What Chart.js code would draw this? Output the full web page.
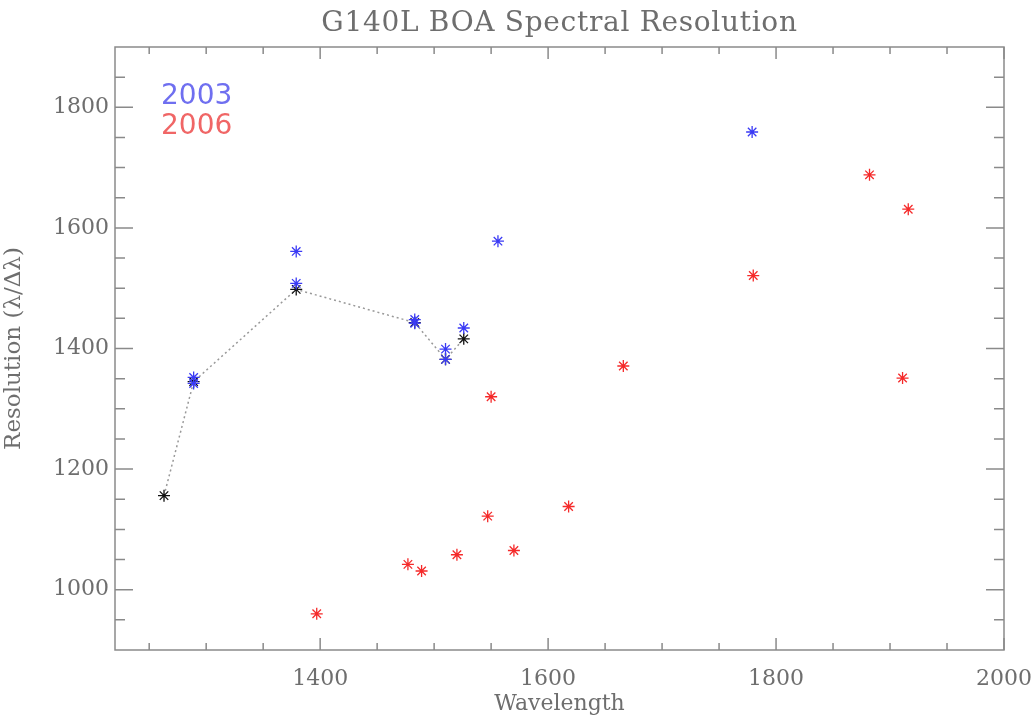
<!DOCTYPE html>
<html>
<head>
<meta charset="utf-8">
<script src="https://cdn.jsdelivr.net/npm/chart.js@4"></script>
<style>
  html, body { margin: 0; padding: 0; background: #fff; }
  #wrap { width: 1034px; height: 717px; position: relative; }
</style>
</head>
<body>
<div id="wrap"><canvas id="chart"></canvas></div>
<script>
/* DATA */
const titleText = "G140L BOA Spectral Resolution";
const xTitle = "Wavelength";
const yTitle = "Resolution (\u03bb/\u0394\u03bb)";
const seriesNames = ["2003", "2006"];

const xTicks = [1400, 1600, 1800, 2000];
const yTicks = [1000, 1200, 1400, 1600, 1800];

// 2003 points (blue)
const wave2003 = [1289, 1289, 1379, 1379, 1483, 1483, 1510, 1510, 1526, 1556, 1779];
const res2003  = [1352, 1342, 1561, 1508, 1448, 1442, 1399, 1382, 1434, 1578, 1759];

// 2006 points (red)
const wave2006 = [1397, 1477, 1489, 1520, 1547, 1550, 1570, 1618, 1666, 1780, 1882, 1911, 1916];
const res2006  = [960, 1042, 1031, 1058, 1122, 1320, 1065, 1138, 1371, 1521, 1688, 1351, 1631];

// reference curve (black, dotted)
const waveRef = [1263, 1289, 1379, 1483, 1510, 1526];
const resRef  = [1156, 1345, 1498, 1443, 1382, 1416];

const pts = (xs, ys) => xs.map((x, i) => ({ x: x, y: ys[i] }));

const axisColor = "#8a8a8a";
const textColor = "#6e6e6e";
const serif = "'DejaVu Serif', serif";

/* Axis box, minor ticks, title and year labels */
const frame = {
  id: "frame",
  afterDraw(chart) {
    const { ctx, chartArea: a, scales } = chart;
    const xs = scales.x, ys = scales.y;
    ctx.save();
    ctx.strokeStyle = axisColor;
    ctx.lineWidth = 1.5;
    ctx.strokeRect(a.left, a.top, a.right - a.left, a.bottom - a.top);

    ctx.beginPath();
    for (let v = 1250; v <= 2000; v += 50) {
      const px = xs.getPixelForValue(v);
      const len = v % 200 === 0 ? 12 : 7;
      ctx.moveTo(px, a.bottom); ctx.lineTo(px, a.bottom - len);
      ctx.moveTo(px, a.top); ctx.lineTo(px, a.top + len);
    }
    for (let v = 950; v < 1900; v += 50) {
      const py = ys.getPixelForValue(v);
      const len = v % 200 === 0 ? 18 : 10;
      ctx.moveTo(a.left, py); ctx.lineTo(a.left + len, py);
      ctx.moveTo(a.right, py); ctx.lineTo(a.right - len, py);
    }
    ctx.stroke();

    ctx.fillStyle = textColor;
    ctx.font = "28px " + serif;
    ctx.letterSpacing = "0.7px";
    ctx.textAlign = "center";
    ctx.textBaseline = "middle";
    ctx.fillText(titleText, (a.left + a.right) / 2, 24);
    ctx.letterSpacing = "0px";

    ctx.font = "28px 'DejaVu Sans', sans-serif";
    ctx.textAlign = "left";
    ctx.fillStyle = "#6f6ff0";
    ctx.fillText(seriesNames[0], 161, 97);
    ctx.fillStyle = "#f06666";
    ctx.fillText(seriesNames[1], 161, 127);
    ctx.restore();
  }
};

new Chart(document.getElementById("chart"), {
  type: "scatter",
  data: {
    datasets: [
      {
        label: seriesNames[0],
        data: pts(wave2003, res2003),
        pointStyle: "star",
        pointRadius: 6,
        borderColor: "#3a3af5",
        backgroundColor: "#3a3af5",
        pointBorderWidth: 1.3
      },
      {
        label: seriesNames[1],
        data: pts(wave2006, res2006),
        pointStyle: "star",
        pointRadius: 6,
        borderColor: "#f52a2a",
        backgroundColor: "#f52a2a",
        pointBorderWidth: 1.3
      },
      {
        label: "reference",
        data: pts(waveRef, resRef),
        showLine: true,
        borderColor: "#999",
        borderWidth: 1.5,
        borderDash: [2, 3],
        pointStyle: "star",
        pointRadius: 6,
        pointBorderColor: "#111",
        pointBackgroundColor: "#111",
        pointBorderWidth: 1.3
      }
    ]
  },
  options: {
    responsive: true,
    maintainAspectRatio: false,
    animation: false,
    layout: { padding: { left: 0, right: 30, top: 47, bottom: 0 } },
    plugins: {
      legend: { display: false },
      title: { display: false },
      tooltip: { enabled: false }
    },
    scales: {
      x: {
        type: "linear",
        min: 1220,
        max: 2000,
        afterBuildTicks: s => { s.ticks = xTicks.map(v => ({ value: v })); },
        afterFit: s => { s.height = 67; s.paddingLeft = 0; s.paddingRight = 0; },
        grid: { display: false, drawTicks: false },
        border: { display: false },
        ticks: { color: textColor, font: { family: serif, size: 22 }, padding: 16, maxRotation: 0, callback: v => String(v) },
        title: { display: true, text: xTitle, color: textColor, font: { family: serif, size: 22 }, padding: { top: 0, bottom: 0 } }
      },
      y: {
        type: "linear",
        min: 900,
        max: 1900,
        afterBuildTicks: s => { s.ticks = yTicks.map(v => ({ value: v })); },
        afterFit: s => { s.width = 115; s.paddingTop = 0; s.paddingBottom = 0; },
        grid: { display: false, drawTicks: false },
        border: { display: false },
        ticks: { color: textColor, font: { family: serif, size: 22 }, padding: 6, callback: v => String(v) },
        title: { display: true, text: yTitle, color: textColor, font: { family: serif, size: 23 }, padding: { top: 0, bottom: 0 } }
      }
    }
  },
  plugins: [frame]
});
</script>
</body>
</html>
